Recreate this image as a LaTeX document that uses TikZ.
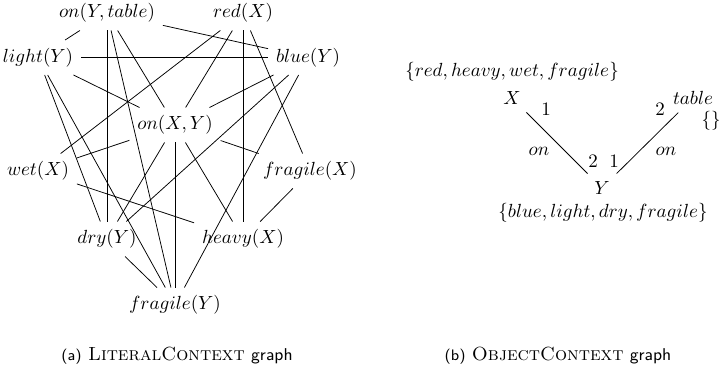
\documentclass[tikz,border=0pt]{standalone}
\begin{document}
\begin{tikzpicture}[x=0.526pt,y=-0.526pt,
  lit/.style={inner sep=4pt},
  obj/.style={inner sep=4pt},
  lbl/.style={inner sep=0pt},
  edge/.style={line width=0.4pt},
  captext/.style={inner sep=0pt}]
\useasboundingbox (0,0) rectangle (719,372);
% (a) LiteralContext graph
\node[lit] (onYt)  at (107,13)  {$on(Y,table)$};
\node[lit] (redX)  at (243,13)  {$red(X)$};
\node[lit] (lightY) at (38,57.5) {$light(Y)$};
\node[lit] (blueY) at (308,57.5) {$blue(Y)$};
\node[lit] (onXY)  at (175,125) {$on(X,Y)$};
\node[lit] (wetX)  at (38,171)  {$wet(X)$};
\node[lit] (fragX) at (310,171) {$fragile(X)$};
\node[lit] (dryY)  at (107,239) {$dry(Y)$};
\node[lit] (heavyX) at (243,239) {$heavy(X)$};
\node[lit] (fragY) at (175,305) {$fragile(Y)$};
% Y clique
\draw[edge] (onYt) -- (lightY);
\draw[edge] (onYt) -- (blueY);
\draw[edge] (onYt) -- (dryY);
\draw[edge] (onYt) -- (fragY);
\draw[edge] (onYt) -- (onXY);
\draw[edge] (lightY) -- (blueY);
\draw[edge] (lightY) -- (onXY);
\draw[edge] (lightY) -- (dryY);
\draw[edge] (lightY) -- (fragY);
\draw[edge] (blueY) -- (onXY);
\draw[edge] (blueY) -- (dryY);
\draw[edge] (blueY) -- (fragY);
\draw[edge] (dryY) -- (onXY);
\draw[edge] (dryY) -- (fragY);
\draw[edge] (onXY) -- (fragY);
% X clique
\draw[edge] (redX) -- (wetX);
\draw[edge] (redX) -- (onXY);
\draw[edge] (redX) -- (heavyX);
\draw[edge] (redX) -- (fragX);
\draw[edge] (wetX) -- (onXY);
\draw[edge] (wetX) -- (heavyX);
\draw[edge] (onXY) -- (fragX);
\draw[edge] (onXY) -- (heavyX);
\draw[edge] (heavyX) -- (fragX);
% (b) ObjectContext graph
\node[lbl] (setX) at (512,72) {$\{red,heavy,wet,fragile\}$};
\node[obj] (X) at (512,98) {$X$};
\node[obj] (table) at (693,98) {$table$};
\node[lbl] (setT) at (711,121) {$\{\}$};
\node[obj] (Y) at (602,188) {$Y$};
\node[lbl] (setY) at (603,213) {$\{blue,light,dry,fragile\}$};
\draw[edge] (X) -- (Y);
\draw[edge] (table) -- (Y);
\node[lbl] (l1a) at (546,109) {$1$};
\node[lbl] (on1) at (539,151) {$on$};
\node[lbl] (l2a) at (593,161) {$2$};
\node[lbl] (l1b) at (614,161) {$1$};
\node[lbl] (on2) at (666,151) {$on$};
\node[lbl] (l2b) at (660,109) {$2$};
% captions
\node[captext] (capa) at (177,356) {{\footnotesize\sffamily (a)}~\textsc{LiteralContext}~{\small\sffamily graph}};
\node[captext] (capb) at (558,356) {{\footnotesize\sffamily (b)}~\textsc{ObjectContext}~{\small\sffamily graph}};
\end{tikzpicture}
\end{document}
